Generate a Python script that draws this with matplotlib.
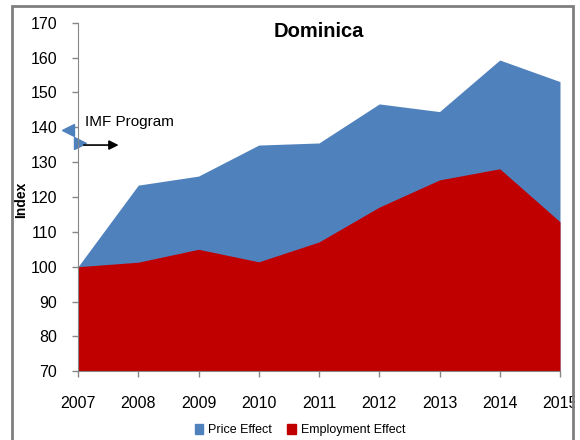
import matplotlib.pyplot as plt
from matplotlib.patches import Rectangle, Patch

# Dane
years = [2007, 2008, 2009, 2010, 2011, 2012, 2013, 2014, 2015]
price_effect = [100, 123.4, 126.0, 134.9, 135.5, 146.7, 144.5, 159.3, 153.1]
employment_effect = [100, 101.3, 105.0, 101.4, 107.1, 117.1, 124.9, 128.1, 112.9]
y_ticks = list(range(70, 171, 10))

plt.rcParams['font.family'] = ['Liberation Sans', 'DejaVu Sans']

blue = '#4F81BD'
red = '#C00000'
gray = '#868686'

fig = plt.figure(figsize=(5.8, 4.4), dpi=100)
ax = fig.add_axes([78 / 580, 1 - 371.3 / 440, (560 - 78) / 580, (371.3 - 22.7) / 440])

ax.fill_between(years, 70, price_effect, color=blue, linewidth=0)
ax.fill_between(years, 70, employment_effect, color=red, linewidth=0)

ax.set_xlim(2007, 2015)
ax.set_ylim(70, 170)
ax.set_xticks(years)
ax.set_yticks(y_ticks)
ax.tick_params(axis='both', colors=gray, labelcolor='black', labelsize=11.5, length=4, width=1)
ax.tick_params(axis='x', pad=14)
ax.tick_params(axis='y', pad=11)
for s in ['top', 'right']:
    ax.spines[s].set_visible(False)
for s in ['left', 'bottom']:
    ax.spines[s].set_color(gray)

fig.text(21 / 580, 1 - 200 / 440, 'Index', fontsize=10, fontweight='bold',
         rotation=90, ha='center', va='center')

ax.text(2011.0, 167.5, 'Dominica', fontsize=14.5, fontweight='bold', ha='center', va='center')

# IMF Program - strzalka i znaczniki
ax.text(2007.12, 141.5, 'IMF Program', fontsize=11, ha='left', va='center')
ax.annotate('', xy=(2007.72, 134.9), xytext=(2007.05, 134.9),
            arrowprops=dict(arrowstyle='-|>', color='black', lw=1.2, mutation_scale=14),
            annotation_clip=False)
ax.plot([2006.84], [139.3], marker='<', color=blue, markersize=8, clip_on=False)
ax.plot([2007.04], [135.4], marker='>', color=blue, markersize=8, clip_on=False)

handles = [Patch(color=blue, label='Price Effect'), Patch(color=red, label='Employment Effect')]
fig.legend(handles=handles, loc='center', bbox_to_anchor=(300 / 580, 1 - 430 / 440), ncol=2,
           frameon=False, fontsize=9, handlelength=0.7, handleheight=0.9, handletextpad=0.4,
           columnspacing=1.2)

# Ramka wykresu (przycieta)
fig.patches.append(Rectangle((575 / 580, 0), 5 / 580, 1, transform=fig.transFigure,
                             facecolor='white', edgecolor='none', zorder=20))
fig.patches.append(Rectangle((12 / 580, -0.1), (573 - 12) / 580, 1.1 - 6 / 440,
                             transform=fig.transFigure, fill=False, edgecolor='#7F7F7F',
                             linewidth=2, zorder=21))

fig.savefig('out.png', dpi=100)
